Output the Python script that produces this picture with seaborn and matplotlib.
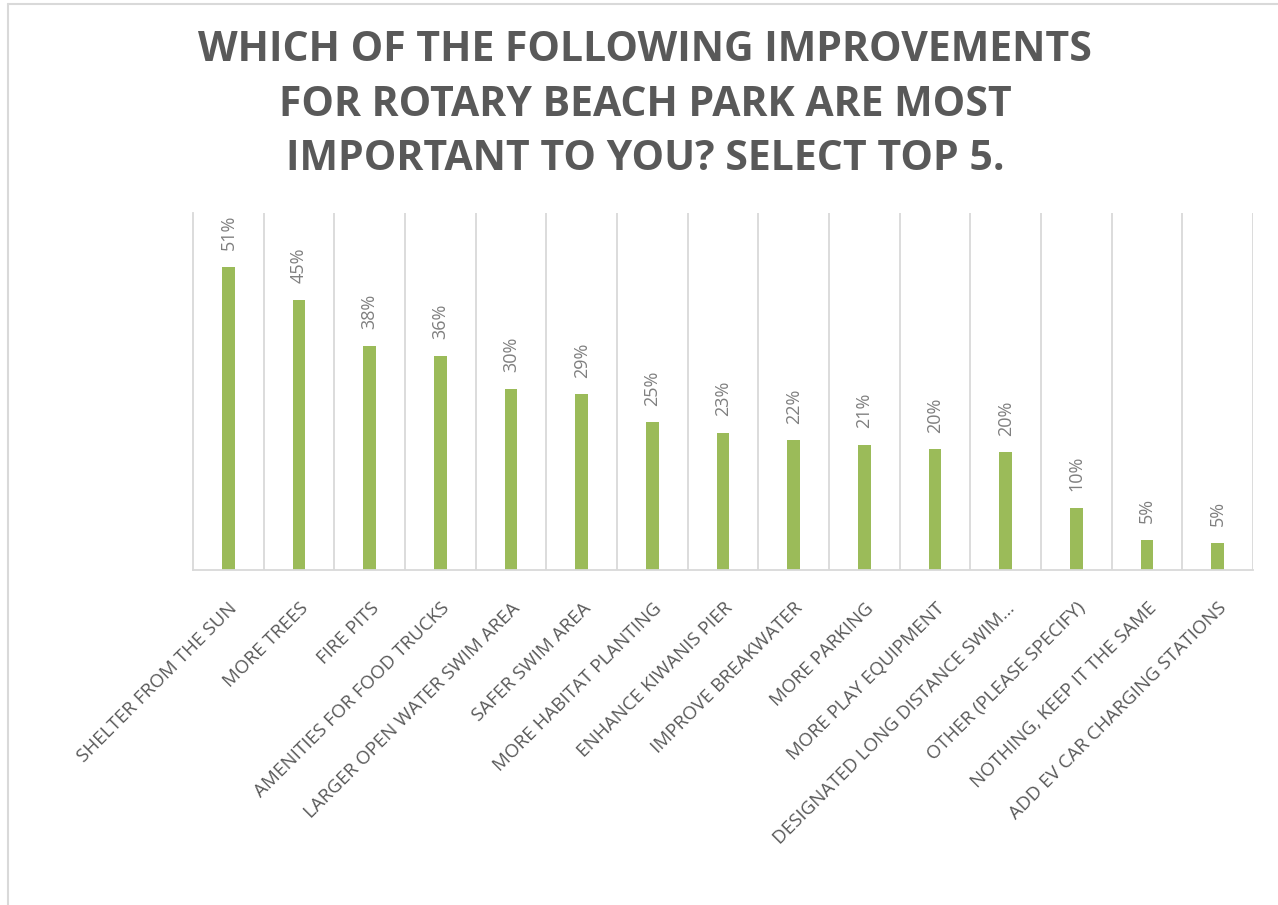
import matplotlib
matplotlib.use("Agg")
import matplotlib.pyplot as plt
import seaborn as sns
import pandas as pd
from matplotlib.lines import Line2D

categories = [
    "SHELTER FROM THE SUN", "MORE TREES", "FIRE PITS", "AMENITIES FOR FOOD TRUCKS",
    "LARGER OPEN WATER SWIM AREA", "SAFER SWIM AREA", "MORE HABITAT PLANTING",
    "ENHANCE KIWANIS PIER", "IMPROVE BREAKWATER", "MORE PARKING",
    "MORE PLAY EQUIPMENT", "DESIGNATED LONG DISTANCE SWIM…", "OTHER (PLEASE SPECIFY)",
    "NOTHING, KEEP IT THE SAME", "ADD EV CAR CHARGING STATIONS",
]
values = [0.51, 0.454, 0.377, 0.36, 0.304, 0.295, 0.248, 0.231, 0.218, 0.21,
          0.203, 0.198, 0.105, 0.051, 0.046]
labels = ["51%", "45%", "38%", "36%", "30%", "29%", "25%", "23%", "22%", "21%",
          "20%", "20%", "10%", "5%", "5%"]
title = "WHICH OF THE FOLLOWING IMPROVEMENTS\nFOR ROTARY BEACH PARK ARE MOST\nIMPORTANT TO YOU? SELECT TOP 5."

sns.set_theme(style="white")
plt.rcParams["font.family"] = ["Open Sans", "DejaVu Sans"]

W, H = 1278, 905
fig = plt.figure(figsize=(W / 100, H / 100), dpi=100)
ax = fig.add_axes([193 / W, 1 - 570 / H, (1253 - 193) / W, (570 - 213) / H])

df = pd.DataFrame({"cat": categories, "val": values})
sns.barplot(data=df, x="cat", y="val", color="#9BBB59", width=0.18, ax=ax,
            saturation=1, edgecolor="none")

ax.set_ylim(0, 0.6)
ax.set_xlim(-0.5, len(categories) - 0.5)
ax.set_xlabel("")
ax.set_ylabel("")
ax.set_yticks([])
for s in ["top", "right"]:
    ax.spines[s].set_visible(False)
ax.spines["left"].set_color("#D9D9D9")
ax.spines["left"].set_linewidth(1.3)
ax.spines["bottom"].set_color("#D9D9D9")
ax.spines["bottom"].set_linewidth(1.3)

# vertical category gridlines
ax.set_xticks([i + 0.5 for i in range(len(categories))], minor=True)
ax.grid(which="minor", axis="x", color="#D9D9D9", linewidth=1.3)
ax.tick_params(axis="x", which="both", length=0)

ax.set_xticks(range(len(categories)))
ax.set_xticklabels(categories, rotation=45, ha="right", rotation_mode="anchor",
                   fontsize=13.5, color="#595959")
ax.tick_params(axis="x", pad=21)

for i, (v, lab) in enumerate(zip(values, labels)):
    ax.annotate(lab, (i, v), xytext=(0, 12), textcoords="offset points",
                rotation=90, ha="center", va="bottom", fontsize=13, color="#7F7F7F")

fig.text(645 / W, 1 - 105 / H, title, ha="center", va="center", fontsize=29.5,
         fontweight="bold", color="#595959", linespacing=1.42)

# chart frame
fig.add_artist(Line2D([8 / W, 8 / W], [0, 1 - 4 / H], transform=fig.transFigure,
                      color="#D9D9D9", linewidth=1.5))
fig.add_artist(Line2D([8 / W, 1], [1 - 4 / H, 1 - 4 / H], transform=fig.transFigure,
                      color="#D9D9D9", linewidth=1.5))

fig.savefig("out.png", dpi=100, facecolor="white")
